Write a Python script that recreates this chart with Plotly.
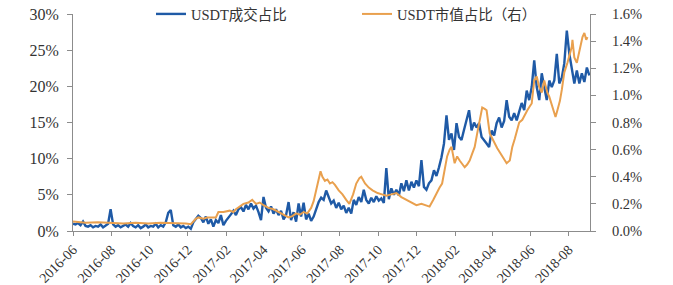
import pandas as pd
import plotly.graph_objects as go

start = pd.Timestamp("2016-06-01")

# USDT成交占比 (left axis, %), one value every 4 days from 2016-06-01
blue_vals = [
    1.0, 0.9, 1.1, 0.8, 1.3, 0.7, 0.6, 0.8, 0.5, 0.7,
    0.6, 0.9, 0.5, 0.7, 1.0, 3.0, 0.9, 0.6, 0.8, 0.5,
    0.7, 0.9, 0.6, 1.1, 0.7, 0.5, 0.8, 0.4, 0.6, 0.9,
    0.5, 0.7, 0.6, 1.0, 0.5, 0.8, 0.6, 1.2, 2.5, 2.9,
    0.8, 0.6, 0.9, 0.5, 0.7, 0.4, 0.6, 0.3, 1.2, 1.6,
    2.1,
    1.8, 1.2, 2.0, 1.0, 1.6, 0.6, 1.5, 1.1, 2.2, 0.8,
    1.4, 1.8, 2.3, 2.8, 2.2, 3.0, 3.3, 2.7, 3.6, 3.0,
    3.8, 3.1, 3.5, 2.6, 1.5, 4.7, 3.2, 2.7, 3.4, 2.4,
    3.0, 2.2, 2.8, 1.6, 2.2, 4.0, 1.5, 2.6, 1.3, 3.8,
    2.0, 3.9, 1.6, 2.4, 1.4, 2.0, 3.1, 4.0, 4.6, 4.3,
    5.6, 4.6, 3.8, 4.2, 3.2, 3.9, 3.0, 3.5, 2.5, 3.2,
    2.4, 4.3, 3.6, 4.7, 4.0, 5.7, 4.3, 3.8, 4.6, 4.0,
    4.8, 4.2, 4.5, 3.9, 8.7, 4.4, 5.9, 5.0, 5.7, 4.9,
    6.6, 5.5, 7.0, 5.6, 6.8, 6.0, 7.0, 6.2, 9.8, 6.1,
    5.7, 6.6, 7.0, 8.4, 7.6, 8.8, 10.2, 12.1, 16.0, 12.6,
    13.5, 11.2, 14.9, 13.0, 12.6, 14.0, 15.3, 16.7, 13.9, 15.0,
    14.3, 14.9, 13.0, 12.6, 12.1, 11.6, 13.9, 13.2, 14.9, 15.7,
    14.3, 15.2, 18.1, 15.8, 15.3, 16.3, 15.3, 16.5, 17.7, 16.7,
    19.4, 18.1, 19.9, 23.6, 19.9, 18.1, 21.8, 19.9, 18.1, 20.8,
    19.9, 20.8, 24.5, 20.4, 21.2, 23.2, 27.7, 24.5, 22.2, 20.4,
    22.2, 20.4, 21.8, 20.6, 22.6, 21.5,
]
blue_dates = pd.date_range(start, periods=len(blue_vals), freq="4D")

# USDT市值占比 (right axis, %), days after 2016-06-01
orange_days = [
    0, 20, 40, 60, 80, 100, 120, 140, 160, 180,
    188, 192, 196, 200, 208, 214, 228, 232, 240, 250,
    256, 260, 266, 272, 280, 286, 292, 298, 304, 312,
    320, 328, 336, 344, 350, 356, 362, 368, 374, 380,
    384, 388, 392, 395, 398, 402, 406, 410, 414, 418,
    424, 430, 436, 441, 447, 452, 457, 460, 466, 472,
    478, 486, 493, 500, 508, 516, 524, 532, 540, 548,
    556, 564, 569, 575, 580, 585, 589, 593, 597, 601,
    604, 609, 613, 617, 621, 625, 629, 633, 637, 641,
    645, 649, 653, 657, 660, 665, 669, 673, 677, 681,
    685, 689, 692, 697, 701, 705, 708, 712, 717, 721,
    725, 729, 732, 736, 740, 744, 748, 752, 757, 760,
    765, 770, 773, 777, 780, 784, 789, 793, 796, 797,
    800, 804, 808, 813, 816, 819, 821,
]
orange_vals = [
    0.07, 0.06, 0.065, 0.06, 0.055, 0.06, 0.055, 0.06, 0.06, 0.055,
    0.05, 0.07, 0.09, 0.10, 0.09, 0.10, 0.10, 0.14, 0.14, 0.15,
    0.14, 0.16, 0.18, 0.20, 0.21, 0.23, 0.20, 0.21, 0.19, 0.17,
    0.16, 0.14, 0.12, 0.10, 0.11, 0.13, 0.12, 0.14, 0.13, 0.17,
    0.22, 0.30, 0.38, 0.44, 0.40, 0.37, 0.38, 0.35, 0.36, 0.34,
    0.30, 0.27, 0.23, 0.20, 0.27, 0.35, 0.39, 0.40, 0.35, 0.32,
    0.30, 0.28, 0.27, 0.26, 0.27, 0.28, 0.25, 0.23, 0.21, 0.19,
    0.20, 0.19, 0.18, 0.23, 0.28, 0.32, 0.35, 0.45, 0.55, 0.60,
    0.62, 0.50, 0.55, 0.52, 0.49, 0.47, 0.49, 0.52, 0.57, 0.62,
    0.72, 0.82, 0.91, 0.90, 0.89, 0.72, 0.68, 0.65, 0.61, 0.58,
    0.55, 0.52, 0.50, 0.52, 0.62, 0.68, 0.74, 0.80, 0.82, 0.86,
    0.89, 0.92, 0.94, 1.11, 1.14, 1.06, 1.02, 1.11, 1.02, 0.99,
    0.91, 0.84, 0.89, 0.96, 1.04, 1.17, 1.24, 1.30, 1.36, 1.41,
    1.28, 1.24, 1.33, 1.43, 1.46, 1.41, 1.43,
]
orange_dates = [start + pd.Timedelta(days=d) for d in orange_days]

left_ticks = [0, 5, 10, 15, 20, 25, 30]
right_ticks = [0.0, 0.2, 0.4, 0.6, 0.8, 1.0, 1.2, 1.4, 1.6]

BLUE = "#1F5AA6"
ORANGE = "#E9A04E"
AXIS = "#8C8C8C"
FONT = "Liberation Serif, Noto Sans CJK SC, serif"

fig = go.Figure()
fig.add_trace(go.Scatter(x=blue_dates, y=blue_vals, mode="lines", name="USDT成交占比",
                         line=dict(color=BLUE, width=2.4), legend="legend", showlegend=True))
fig.add_trace(go.Scatter(x=orange_dates, y=orange_vals, mode="lines", name="USDT市值占比（右）",
                         line=dict(color=ORANGE, width=2.0), yaxis="y2", legend="legend2",
                         showlegend=True))

leg_common = dict(orientation="h", xref="paper", yref="paper", y=1.0,
                  xanchor="left", yanchor="middle", bgcolor="rgba(0,0,0,0)",
                  font=dict(size=14.5, color="#333333"), itemwidth=30)

fig.update_layout(
    width=673, height=285,
    margin=dict(l=73, r=83, t=14, b=54, autoexpand=False),
    paper_bgcolor="white", plot_bgcolor="white",
    showlegend=True,
    font=dict(family=FONT, size=14, color="#333333"),
    xaxis=dict(
        type="date",
        range=[start, pd.Timestamp("2018-09-04")],
        tick0=start, dtick="M2", tickformat="%Y-%m", tickangle=-45,
        showgrid=False, zeroline=False,
        showline=True, linecolor=AXIS, linewidth=1,
        ticks="outside", ticklen=4, tickcolor=AXIS,
        tickfont=dict(size=14),
    ),
    yaxis=dict(
        range=[0, 30], tickvals=left_ticks, ticktext=[f"{v}%" for v in left_ticks],
        showgrid=False, zeroline=False,
        showline=True, linecolor=AXIS, linewidth=1,
        ticks="outside", ticklen=5, tickcolor=AXIS,
        ticklabelstandoff=5,
        tickfont=dict(size=16),
    ),
    yaxis2=dict(
        overlaying="y", side="right",
        range=[0, 1.6], tickvals=right_ticks, ticktext=[f"{v:.1f}%" for v in right_ticks],
        showgrid=False, zeroline=False,
        showline=True, linecolor=AXIS, linewidth=1,
        ticks="outside", ticklen=5, tickcolor=AXIS,
        ticklabelstandoff=13,
        tickfont=dict(size=14.5),
    ),
    legend=dict(leg_common, x=(151 - 73) / 517),
    legend2=dict(leg_common, x=(357 - 73) / 517),
)

fig.write_html("out.html")
